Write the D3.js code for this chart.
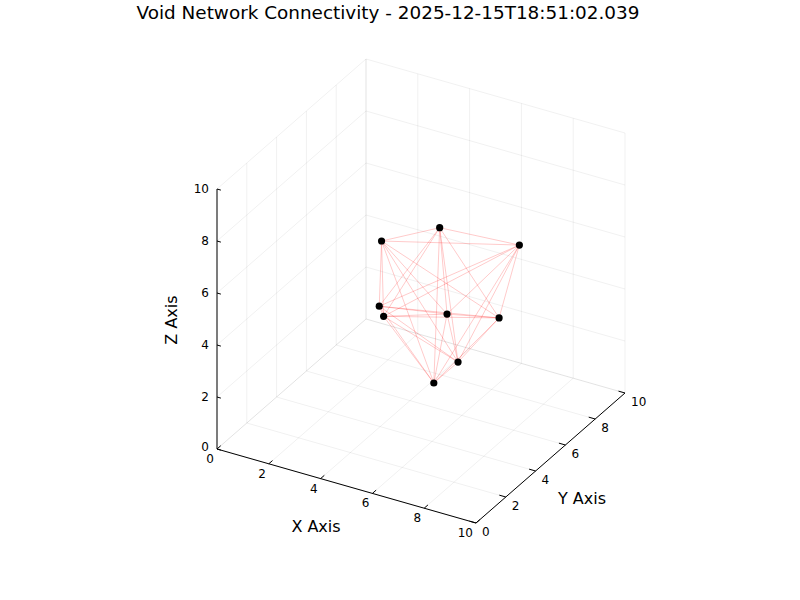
<!DOCTYPE html>
<html>
<head>
<meta charset="utf-8">
<script src="https://cdn.jsdelivr.net/npm/d3@7"></script>
<style>
  body { margin: 0; background: #fff; }
  text { font-family: "DejaVu Sans", sans-serif; fill: #000; }
</style>
</head>
<body>
<script>
// node positions (x, y, z)
const nodeX = [3.92, 5.60, 7.63, 3.86, 3.89, 5.66, 6.87, 6.28, 5.84];
const nodeY = [4.23, 5.21, 7.03, 4.18, 4.42, 5.60, 6.99, 5.26, 4.40];
const nodeZ = [7.0, 7.5, 6.5, 4.5, 4.0, 4.0, 3.5, 2.5, 2.0];
const ticks = [0, 2, 4, 6, 8, 10];
const titleText = "Void Network Connectivity - 2025-12-15T18:51:02.039";

const W = 800, H = 600;
const svg = d3.select("body").append("svg")
  .attr("width", W)
  .attr("height", H);

// scales from data to unit box
const xs = d3.scaleLinear().domain([0, 10]).range([0, 1]);
const ys = d3.scaleLinear().domain([0, 10]).range([0, 1]);
const zs = d3.scaleLinear().domain([0, 10]).range([0, 1]);

// screen directions of the box edges
const O = [217, 449];
const EX = [259, 74];
const EY = [149, -130];
const EZ = [0, -260];

function proj(x, y, z) {
  const u = xs(x), v = ys(y), w = zs(z);
  return [O[0] + u * EX[0] + v * EY[0] + w * EZ[0],
          O[1] + u * EX[1] + v * EY[1] + w * EZ[1]];
}

function seg(g, a, b, stroke, width, op) {
  g.append("line")
    .attr("x1", a[0]).attr("y1", a[1])
    .attr("x2", b[0]).attr("y2", b[1])
    .attr("stroke", stroke)
    .attr("stroke-width", width)
    .attr("stroke-opacity", op);
}

// grid on the back walls and floor
const grid = svg.append("g");
ticks.forEach(t => {
  // floor z=0
  seg(grid, proj(t, 0, 0), proj(t, 10, 0), "#000", 0.6, 0.1);
  seg(grid, proj(0, t, 0), proj(10, t, 0), "#000", 0.6, 0.1);
  // left wall x=0
  seg(grid, proj(0, t, 0), proj(0, t, 10), "#000", 0.6, 0.1);
  seg(grid, proj(0, 0, t), proj(0, 10, t), "#000", 0.6, 0.1);
  // back wall y=10
  seg(grid, proj(t, 10, 0), proj(t, 10, 10), "#000", 0.6, 0.1);
  seg(grid, proj(0, 10, t), proj(10, 10, t), "#000", 0.6, 0.1);
});

// axes
const ax = svg.append("g");
seg(ax, proj(0, 0, 0), proj(10, 0, 0), "#000", 1, 1);
seg(ax, proj(10, 0, 0), proj(10, 10, 0), "#000", 1, 1);
seg(ax, proj(0, 0, 0), proj(0, 0, 10), "#000", 1, 1);

ticks.forEach(t => {
  // x ticks
  let p = proj(t, 0, 0);
  seg(ax, p, proj(t, 0.25, 0), "#000", 1, 1);
  ax.append("text")
    .attr("x", p[0] - 3).attr("y", p[1] + 10)
    .attr("text-anchor", "end")
    .attr("dominant-baseline", "central")
    .attr("font-size", 12)
    .text(t);
  // y ticks
  p = proj(10, t, 0);
  seg(ax, p, proj(9.75, t, 0), "#000", 1, 1);
  ax.append("text")
    .attr("x", p[0] + 6).attr("y", p[1] + 9)
    .attr("text-anchor", "start")
    .attr("dominant-baseline", "central")
    .attr("font-size", 12)
    .text(t);
  // z ticks
  p = proj(0, 0, t);
  seg(ax, p, proj(0.15, 0, t), "#000", 1, 1);
  ax.append("text")
    .attr("x", p[0] - 8).attr("y", p[1] - (t === 0 ? 2 : 0))
    .attr("text-anchor", "end")
    .attr("dominant-baseline", "central")
    .attr("font-size", 12)
    .text(t);
});

// axis titles
svg.append("text")
  .attr("x", 316).attr("y", 526)
  .attr("text-anchor", "middle")
  .attr("dominant-baseline", "central")
  .attr("font-size", 16)
  .text("X Axis");
svg.append("text")
  .attr("x", 582).attr("y", 498)
  .attr("text-anchor", "middle")
  .attr("dominant-baseline", "central")
  .attr("font-size", 16)
  .text("Y Axis");
svg.append("text")
  .attr("transform", "translate(171,320) rotate(-90)")
  .attr("text-anchor", "middle")
  .attr("dominant-baseline", "central")
  .attr("font-size", 16)
  .text("Z Axis");

// title
svg.append("text")
  .attr("x", 388).attr("y", 12)
  .attr("text-anchor", "middle")
  .attr("dominant-baseline", "central")
  .attr("font-size", 18.4)
  .text(titleText);

// links between every pair of nodes
const nodes = nodeX.map((x, i) => ({x: x, y: nodeY[i], z: nodeZ[i]}));
const links = [];
for (let i = 0; i < nodes.length; i++) {
  for (let j = i + 1; j < nodes.length; j++) {
    links.push([nodes[i], nodes[j]]);
  }
}
const lg = svg.append("g");
links.forEach(l => {
  seg(lg, proj(l[0].x, l[0].y, l[0].z), proj(l[1].x, l[1].y, l[1].z), "#ff0000", 0.7, 0.3);
});

// nodes
svg.append("g").selectAll("circle")
  .data(nodes)
  .join("circle")
  .attr("cx", d => proj(d.x, d.y, d.z)[0])
  .attr("cy", d => proj(d.x, d.y, d.z)[1])
  .attr("r", 3.6)
  .attr("fill", "#000");
</script>
</body>
</html>
